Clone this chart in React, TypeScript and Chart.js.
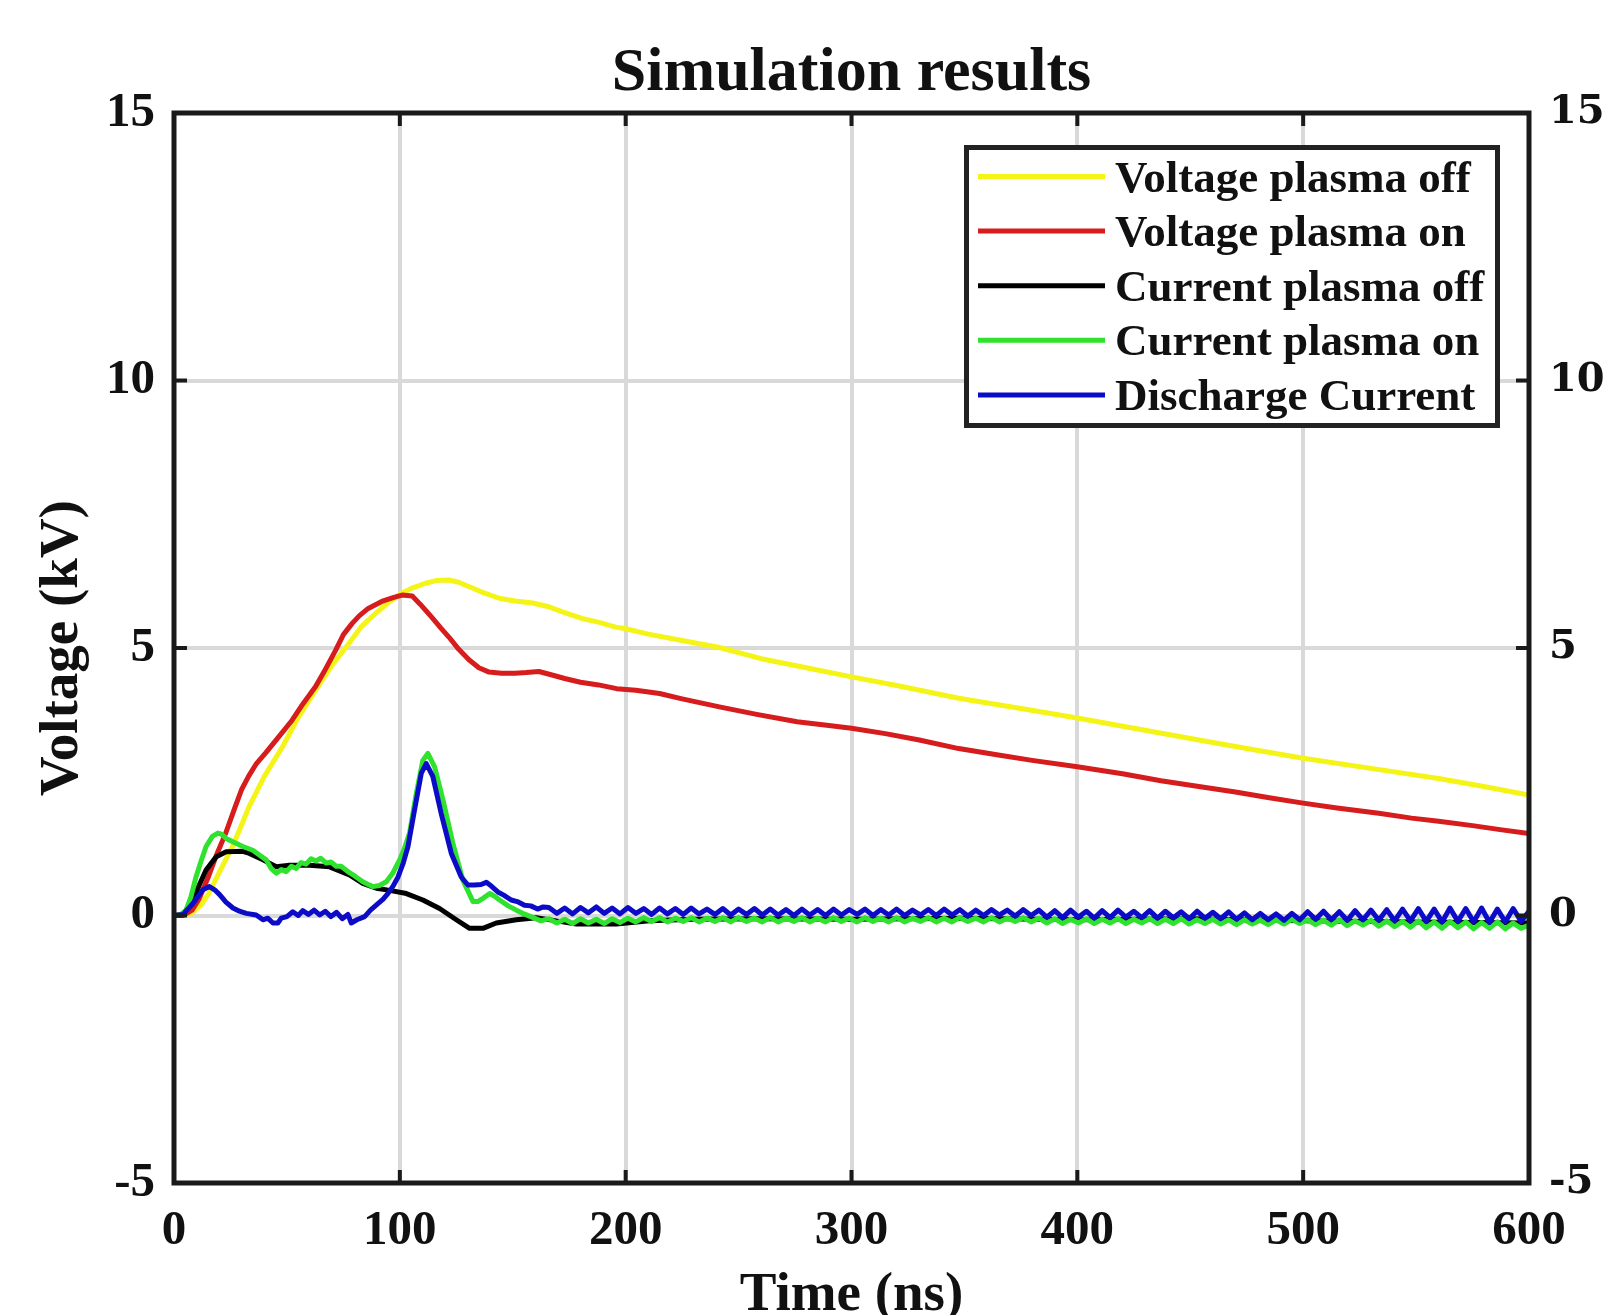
import React, { useEffect, useRef } from "react";
import { Chart, registerables } from "chart.js";

Chart.register(...registerables);

const SERIF = "'Liberation Serif', 'Times New Roman', serif";

// ---------- Data (time in ns, values in kV / scaled current) ----------
const voltOffT = [0,5,8,12,15.5,20,25.8,30,33.2,40,48,55,62.7,70,77.5,83,89.3,95,101,106,111.4,116,121.8,126,130,136,144,151,158.8,166,173,180.9,188.3,195.6,200,210,225,241.5,260,280,300,320,347.5,375,400,425,453.8,475,500,530,560,580,600];
const voltOffV = [0,0,0.05,0.2,0.42,0.8,1.28,1.7,2.03,2.6,3.15,3.7,4.21,4.68,5.09,5.4,5.65,5.85,6.03,6.13,6.21,6.26,6.27,6.23,6.16,6.05,5.93,5.88,5.84,5.77,5.66,5.55,5.48,5.39,5.36,5.26,5.14,5.01,4.8,4.63,4.46,4.3,4.06,3.87,3.69,3.5,3.28,3.12,2.94,2.75,2.56,2.41,2.25];

const voltOnT = [0,4,8,11,15,19,22.9,27,30,33,36.5,40.6,46,52.3,57,62.7,67,71.6,75,78.9,82,86,92,97,101,105.5,109,114,118,121.8,126,130.6,135,139.5,145,151,156,161.6,167,173,180,188,196,204.5,215,225,241.5,258,275.9,290,300,315,330,347.5,365,380,400,420,437,453.8,470,485,500,515,533.5,548,560,575,588,600];
const voltOnV = [0,0,0.1,0.3,0.7,1.15,1.54,2.02,2.36,2.6,2.84,3.04,3.32,3.65,3.95,4.28,4.6,4.96,5.25,5.46,5.6,5.74,5.87,5.94,5.99,5.97,5.82,5.58,5.38,5.2,4.98,4.78,4.63,4.55,4.53,4.53,4.54,4.56,4.5,4.43,4.36,4.31,4.24,4.21,4.15,4.05,3.9,3.76,3.62,3.55,3.5,3.4,3.28,3.12,3.0,2.9,2.78,2.65,2.52,2.41,2.31,2.2,2.1,2.01,1.91,1.82,1.76,1.68,1.6,1.53];

const curOffT = [0,4,8.3,11,14.2,18.7,23.1,30.5,33.4,39.4,45.3,51.2,60,68.9,77.7,83.6,89.6,95.5,102.9,110.2,117.6,125,130.9,136.8,142.7,151.6,160.4,169.3,178.2,195.8,210.6,230,260,300,350,400,450,500,550,600];
const curOffV = [0,0.02,0.28,0.55,0.85,1.1,1.19,1.2,1.16,1.04,0.91,0.94,0.94,0.91,0.76,0.6,0.51,0.47,0.41,0.29,0.13,-0.08,-0.24,-0.24,-0.14,-0.08,-0.04,-0.1,-0.16,-0.16,-0.1,-0.07,-0.06,-0.07,-0.05,-0.08,-0.06,-0.1,-0.12,-0.14];

const curOnEarlyT = [0,3,5.4,7.5,9.8,12,14.2,17,19.4,21,23.1,26,30.5,34.9,37.5,40.8,43,45.3,47.5,49.7,52,54.1,56.3,58.5,60.7,62.9,65,67.4,69.5,71.8,74,77.7,80,83.6,86,88.1,91,94,97,99.9,102,104.3,107.3,110.2,112.4,115.4,119.1,123.5,127.9,132.4,134.5,136.8,139.8,142,144.2,148,151.6,155,159,162.5];
const curOnEarlyV = [0,0.02,0.1,0.35,0.73,1.02,1.29,1.48,1.54,1.52,1.44,1.38,1.29,1.22,1.14,1.04,0.88,0.79,0.86,0.82,0.92,0.88,0.99,0.96,1.06,1.02,1.07,0.98,1.0,0.92,0.92,0.8,0.74,0.63,0.58,0.54,0.56,0.63,0.8,1.04,1.25,1.54,2.28,2.9,3.03,2.78,2.16,1.35,0.66,0.26,0.26,0.32,0.41,0.36,0.29,0.18,0.1,0.03,-0.04,-0.1];

const dischEarlyT = [0,4,8.3,12.8,15.7,18,20.2,23,26.1,29,32,36.4,39.4,41.5,43.8,46,47.5,50,52.6,55,57,59.5,62,64.5,67,69.5,72,74.5,77,78.5,81,84.4,87,90.3,92.5,94.7,97,99.2,101.5,103.6,106.5,109.5,111.7,114.6,118.3,122.8,127.2,130.1,133,136,138.3,140.5,143.4,146,149.3,152,155.2,158,161,163.5];
const dischEarlyV = [0,0.02,0.22,0.48,0.54,0.48,0.39,0.25,0.14,0.08,0.04,0.01,-0.08,-0.05,-0.14,-0.14,-0.05,-0.02,0.07,0.0,0.09,0.02,0.1,0.01,0.08,-0.02,0.06,-0.06,0.02,-0.14,-0.08,-0.02,0.1,0.22,0.3,0.41,0.55,0.72,0.98,1.29,1.97,2.66,2.84,2.6,1.91,1.16,0.72,0.57,0.57,0.58,0.62,0.55,0.44,0.38,0.29,0.26,0.19,0.18,0.12,0.16];

// ringing section (shared sample times)
const ringT = [166,169.5,173,176.5,180,183.5,187,190.5,194,197.5,201,204.5,208,211.5,215,218.5,222,225.5,229,232.5,236,239.5,243,246.5,250,253.5,257,260.5,264,267.5,271,274.5,278,281.5,285,288.5,292,295.5,299,302.5,306,309.5,313,316.5,320,323.5,327,330.5,334,337.5,341,344.5,348,351.5,355,358.5,362,365.5,369,372.5,376,379.5,383,386.5,390,393.5,397,400.5,404,407.5,411,414.5,418,421.5,425,428.5,432,435.5,439,442.5,446,449.5,453,456.5,460,463.5,467,470.5,474,477.5,481,484.5,488,491.5,495,498.5,502,505.5,509,512.5,516,519.5,523,526.5,530,533.5,537,540.5,544,547.5,551,554.5,558,561.5,565,568.5,572,575.5,579,582.5,586,589.5,593,596.5,600];
const dischRingV = [0.15,0.04,0.14,0.03,0.15,0.05,0.16,0.04,0.14,0.03,0.15,0.04,0.13,0.02,0.14,0.03,0.13,0.02,0.14,0.03,0.12,0.02,0.13,0.01,0.12,0.02,0.13,0.01,
  0.12,0.01,0.11,0.0,0.12,0.01,0.11,0.0,0.12,0.01,0.11,0.02,0.12,0.0,0.11,0.01,0.12,0.0,0.1,0.01,0.11,0.0,0.12,0.01,0.11,-0.01,0.1,0.0,0.11,0.01,0.1,-0.01,0.11,0.0,0.1,
  -0.03,0.09,-0.04,0.1,-0.03,0.08,-0.05,0.09,-0.04,0.1,-0.03,0.08,-0.04,0.09,-0.05,0.08,-0.04,0.07,-0.06,0.08,-0.05,0.06,-0.06,0.07,-0.07,0.05,-0.08,0.04,-0.08,0.03,-0.09,0.04,-0.08,
  0.07,-0.07,0.08,-0.08,0.07,-0.09,0.09,-0.08,0.1,-0.09,0.11,-0.1,0.12,-0.1,0.13,-0.11,0.12,-0.12,0.14,-0.11,0.13,-0.12,0.14,-0.13,0.12,-0.12,0.13,-0.11,0.08];
const curOnRingV = [-0.06,-0.14,-0.07,-0.15,-0.06,-0.14,-0.07,-0.15,-0.06,-0.13,-0.05,
  -0.12,-0.04,-0.11,-0.04,-0.12,-0.05,-0.11,-0.04,-0.12,-0.05,-0.11,-0.04,-0.12,-0.04,-0.11,-0.05,-0.12,
  -0.04,-0.12,-0.05,-0.11,-0.04,-0.12,-0.05,-0.12,-0.04,-0.11,-0.05,-0.12,-0.04,-0.11,-0.05,-0.12,-0.04,-0.12,-0.05,-0.11,-0.04,-0.12,-0.05,-0.12,-0.04,-0.11,-0.05,-0.12,-0.04,-0.12,-0.05,-0.11,-0.04,-0.12,-0.05,
  -0.14,-0.06,-0.15,-0.07,-0.14,-0.06,-0.15,-0.07,-0.14,-0.06,-0.15,-0.07,-0.14,-0.06,-0.15,-0.07,-0.15,-0.06,-0.16,-0.08,-0.15,-0.07,-0.16,-0.08,-0.17,-0.08,-0.16,-0.09,-0.17,-0.08,-0.16,-0.07,-0.15,
  -0.08,-0.17,-0.09,-0.18,-0.08,-0.19,-0.1,-0.18,-0.09,-0.2,-0.1,-0.21,-0.11,-0.22,-0.1,-0.23,-0.12,-0.24,-0.11,-0.23,-0.12,-0.25,-0.13,-0.24,-0.12,-0.25,-0.14,-0.24,-0.18];

const seriesLabels = ["Voltage plasma off", "Voltage plasma on", "Current plasma off", "Current plasma on", "Discharge Current"];
const seriesColors = ["#f4f416", "#d61c1c", "#000000", "#2ee22e", "#0c0cc8"];

const xTicksStep = 100;
const yTicksStep = 5;
const chartTitle = "Simulation results";
const xTitle = "Time (ns)";
const yTitle = "Voltage (kV)";

const pairs = (t: number[], v: number[]) => t.map((x, i) => ({ x, y: v[i] }));

const overlayPlugin = {
  id: "overlay",
  afterDatasetsDraw(chart: any) {
    const { ctx, chartArea: a, scales } = chart;
    ctx.save();
    const line = (x1: number, y1: number, x2: number, y2: number) => {
      ctx.beginPath();
      ctx.moveTo(x1, y1);
      ctx.lineTo(x2, y2);
      ctx.stroke();
    };
    // inward ticks on all four sides
    ctx.strokeStyle = "#1a1a1a";
    ctx.lineWidth = 4;
    const TL = 13;
    scales.x.ticks.forEach((t: any) => {
      const px = scales.x.getPixelForValue(t.value);
      line(px, a.bottom, px, a.bottom - TL);
      line(px, a.top, px, a.top + TL);
    });
    scales.y.ticks.forEach((t: any) => {
      const py = scales.y.getPixelForValue(t.value);
      line(a.left, py, a.left + TL, py);
      line(a.right, py, a.right - TL, py);
    });
    // frame
    ctx.lineWidth = 5;
    ctx.strokeRect(a.left, a.top, a.right - a.left, a.bottom - a.top);

    // title
    ctx.fillStyle = "#111";
    ctx.font = `bold 62px ${SERIF}`;
    ctx.textAlign = "center";
    ctx.textBaseline = "alphabetic";
    ctx.fillText(chartTitle, (a.left + a.right) / 2, 90);

    // legend
    const bx = 966.5, by = 147.5, bw = 531, bh = 278;
    ctx.fillStyle = "#ffffff";
    ctx.fillRect(bx, by, bw, bh);
    ctx.strokeStyle = "#222";
    ctx.lineWidth = 5;
    ctx.strokeRect(bx, by, bw, bh);
    ctx.font = `bold 45px ${SERIF}`;
    ctx.textAlign = "left";
    seriesLabels.forEach((lab, i) => {
      const ry = 176.5 + i * 54.6;
      ctx.strokeStyle = seriesColors[i];
      ctx.lineWidth = 5;
      line(978, ry, 1105, ry);
      ctx.fillStyle = "#111";
      ctx.fillText(lab, 1115, ry + 15);
    });
    ctx.restore();
  },
};

export default function App() {
  const ref = useRef<HTMLCanvasElement | null>(null);
  useEffect(() => {
    if (!ref.current) return;
    const datasets = [
      { label: seriesLabels[0], data: pairs(voltOffT, voltOffV), order: 5 },
      { label: seriesLabels[1], data: pairs(voltOnT, voltOnV), order: 4 },
      { label: seriesLabels[2], data: pairs(curOffT, curOffV), order: 3 },
      { label: seriesLabels[3], data: [...pairs(curOnEarlyT, curOnEarlyV), ...pairs(ringT, curOnRingV)], order: 2 },
      { label: seriesLabels[4], data: [...pairs(dischEarlyT, dischEarlyV), ...pairs(ringT, dischRingV)], order: 1 },
    ].map((d, i) => ({
      ...d,
      borderColor: seriesColors[i],
      backgroundColor: seriesColors[i],
      borderWidth: 5,
      pointRadius: 0,
      tension: 0,
      fill: false,
      borderJoinStyle: "round" as const,
    }));
    const tickFont = { family: SERIF, size: 49, weight: "bold" as const };
    const chart = new Chart(ref.current, {
      type: "line",
      data: { datasets },
      plugins: [overlayPlugin],
      options: {
        responsive: false,
        devicePixelRatio: 1,
        animation: false,
        layout: { padding: { top: 113, left: 0, right: 0, bottom: 0 } },
        plugins: { legend: { display: false }, tooltip: { enabled: false }, title: { display: false } },
        scales: {
          x: {
            type: "linear",
            min: 0,
            max: 600,
            ticks: { stepSize: xTicksStep, font: tickFont, color: "#111", padding: 19, maxRotation: 0, autoSkip: false },
            grid: { color: "#d9d9d9", lineWidth: 4, drawTicks: false },
            border: { display: false },
            title: {
              display: true,
              text: xTitle,
              color: "#111",
              font: { family: SERIF, size: 55, weight: "bold", lineHeight: 0.6 },
              padding: { top: 0, bottom: 2.5 },
            },
            afterFit: (s: any) => { s.height = 132; },
          },
          y: {
            type: "linear",
            position: "left",
            min: -5,
            max: 15,
            ticks: { stepSize: yTicksStep, font: tickFont, color: "#111", padding: 19 },
            grid: { color: "#d9d9d9", lineWidth: 4, drawTicks: false },
            border: { display: false },
            title: {
              display: true,
              text: yTitle,
              color: "#111",
              font: { family: SERIF, size: 55, weight: "bold", lineHeight: 1.2 },
              padding: { top: 29.5, bottom: 0 },
            },
            afterFit: (s: any) => { s.width = 174; },
          },
          y2: {
            type: "linear",
            position: "right",
            min: -5,
            max: 15,
            ticks: { stepSize: yTicksStep, font: { family: "'DejaVu Serif', serif", size: 40, weight: "bold" }, color: "#111", padding: 20 },
            grid: { display: false, drawTicks: false },
            border: { display: false },
            afterFit: (s: any) => { s.width = 85; },
          },
        },
      } as any,
    });
    return () => chart.destroy();
  }, []);
  return (
    <div style={{ position: "fixed", left: 0, top: 0, width: 1614, height: 1315, background: "#fff" }}>
      <canvas ref={ref} width={1614} height={1315} style={{ display: "block", width: 1614, height: 1315 }} />
    </div>
  );
}
